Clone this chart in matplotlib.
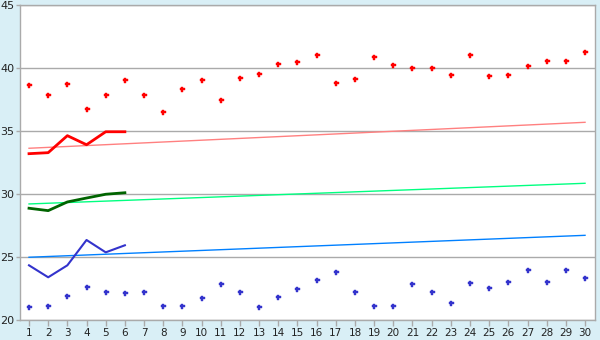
import matplotlib
matplotlib.use("Agg")
import matplotlib.pyplot as plt

days = list(range(1, 31))
red_pts = [38.63, 37.83, 38.7, 36.72, 37.83, 39.02, 37.83, 36.48, 38.31, 39.02,
           37.44, 39.18, 39.5, 40.29, 40.45, 41.01, 38.79, 39.1, 40.85, 40.21,
           39.98, 39.98, 39.42, 41.01, 39.34, 39.42, 40.13, 40.53, 40.53, 41.25]
blue_pts = [21.01, 21.09, 21.88, 22.6, 22.2, 22.12, 22.2, 21.09, 21.09, 21.72,
            22.83, 22.2, 21.01, 21.8, 22.44, 23.15, 23.79, 22.2, 21.09, 21.09,
            22.83, 22.2, 21.33, 22.91, 22.52, 22.99, 23.94, 22.99, 23.94, 23.31]
line_days = [1, 2, 3, 4, 5, 6]
red_line = [33.2, 33.28, 34.63, 33.91, 34.94, 34.94]
green_line = [28.87, 28.68, 29.37, 29.68, 29.98, 30.1]
blue_line = [24.34, 23.39, 24.34, 26.35, 25.37, 25.93]
trend_days = [1, 30]
red_trend = [33.63, 35.69]
green_trend = [29.21, 30.85]
blue_trend = [24.98, 26.72]
yticks = [20, 25, 30, 35, 40, 45]

bg = "#d9eff6"
fig = plt.figure(figsize=(6, 3.4), dpi=100, facecolor=bg)
ax = fig.add_axes([20/600, 20/340, 575/600, 315/340])
ax.set_facecolor("white")

for y in yticks:
    ax.axhline(y, color="#aaaaaa", lw=1, zorder=1)

ax.plot(trend_days, red_trend, color="#ff8080", lw=1, zorder=2)
ax.plot(trend_days, green_trend, color="#00ff80", lw=1, zorder=2)
ax.plot(trend_days, blue_trend, color="#0080ff", lw=1, zorder=2)

ax.plot(line_days, red_line, color="#ff0000", lw=2, zorder=3)
ax.plot(line_days, green_line, color="#006400", lw=2, zorder=3)
ax.plot(line_days, blue_line, color="#3333cc", lw=1.5, zorder=3)

ax.plot(days, red_pts, ls="none", marker="P", ms=3.6, color="#ff0000", mec="#ff0000", mew=0.3, zorder=4)
ax.plot(days, blue_pts, ls="none", marker="P", ms=3.6, color="#3333cc", mec="#3333cc", mew=0.3, zorder=4)

ax.set_xlim(0.53, 30.52)
ax.set_ylim(20, 45)
ax.set_yticks(yticks)
ax.set_xticks(days)
ax.tick_params(axis="both", colors="#aaaaaa", labelcolor="#222222", labelsize=7.5, width=1)
ax.tick_params(axis="y", labelsize=8, pad=1, length=3)
ax.tick_params(axis="x", pad=2, length=4)
for s in ax.spines.values():
    s.set_color("#aaaaaa")
    s.set_linewidth(1)

fig.savefig("out.png", dpi=100, facecolor=bg)
